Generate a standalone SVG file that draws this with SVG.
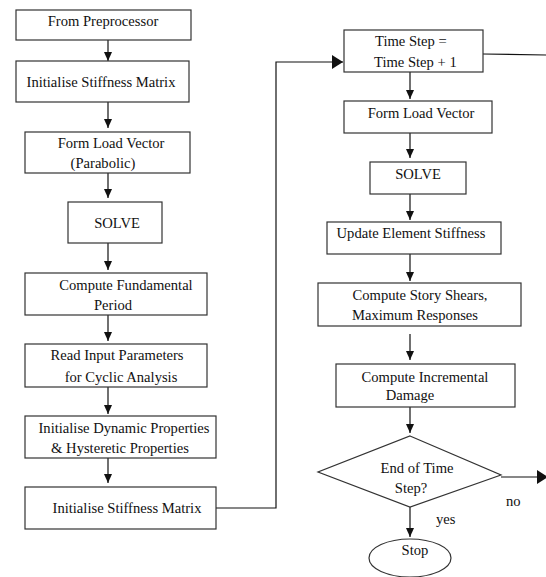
<svg xmlns="http://www.w3.org/2000/svg" width="546" height="577" viewBox="0 0 546 577">
<style>
.box{fill:#fff;stroke:#333;stroke-width:1.2}
.t{font-family:"Liberation Serif","Times New Roman",serif;font-size:14.6px;fill:#111;text-anchor:middle}
.tl{font-family:"Liberation Serif","Times New Roman",serif;font-size:14.6px;fill:#111}
.c{fill:none;stroke:#111;stroke-width:1.2}
</style>
<defs>
<marker id="ah" markerUnits="userSpaceOnUse" markerWidth="10" markerHeight="10" viewBox="0 0 10 10" refX="9" refY="5" orient="auto">
<path d="M0,1 L9,5 L0,9 Z" fill="#111"/>
</marker>
<marker id="ahb" markerUnits="userSpaceOnUse" markerWidth="12" markerHeight="14" viewBox="0 0 12 14" refX="11" refY="7" orient="auto">
<path d="M0,0 L11,7 L0,14 Z" fill="#111"/>
</marker>
</defs>
<g id="connectors">
<line class="c" x1="108" y1="40" x2="108" y2="61" marker-end="url(#ah)"/>
<line class="c" x1="108" y1="102" x2="108" y2="128" marker-end="url(#ah)"/>
<line class="c" x1="108" y1="173" x2="108" y2="198" marker-end="url(#ah)"/>
<line class="c" x1="108" y1="243" x2="108" y2="270" marker-end="url(#ah)"/>
<line class="c" x1="108" y1="315" x2="108" y2="341" marker-end="url(#ah)"/>
<line class="c" x1="108" y1="387" x2="108" y2="414" marker-end="url(#ah)"/>
<line class="c" x1="108" y1="458" x2="108" y2="483" marker-end="url(#ah)"/>
<polyline class="c" points="216,508 276,508 276,62 343,62" marker-end="url(#ahb)"/>
<line class="c" x1="483" y1="54" x2="546" y2="55"/>
<line class="c" x1="410" y1="72" x2="410" y2="99" marker-end="url(#ah)"/>
<line class="c" x1="410" y1="133" x2="410" y2="158" marker-end="url(#ah)"/>
<line class="c" x1="410" y1="194" x2="410" y2="220" marker-end="url(#ah)"/>
<line class="c" x1="410" y1="254" x2="410" y2="281" marker-end="url(#ah)"/>
<line class="c" x1="410" y1="334" x2="410" y2="360" marker-end="url(#ah)"/>
<line class="c" x1="410" y1="407" x2="410" y2="433" marker-end="url(#ah)"/>
<line class="c" x1="501" y1="477" x2="548" y2="477" marker-end="url(#ahb)"/>
<line class="c" x1="410" y1="507" x2="410" y2="537" marker-end="url(#ah)"/>
</g>
<g id="n1"><rect class="box" x="16" y="10" width="175" height="30"/><text class="t" x="103" y="26">From Preprocessor</text></g>
<g id="n2"><rect class="box" x="16" y="61" width="173" height="41"/><text class="t" x="101" y="87">Initialise Stiffness Matrix</text></g>
<g id="n3"><rect class="box" x="25" y="132" width="165" height="41"/><text class="t" x="111" y="148">Form Load Vector</text><text class="t" x="103" y="168">(Parabolic)</text></g>
<g id="n4"><rect class="box" x="68" y="202" width="94" height="41"/><text class="t" x="117" y="228">SOLVE</text></g>
<g id="n5"><rect class="box" x="25" y="273" width="182" height="42"/><text class="t" x="126" y="290">Compute Fundamental</text><text class="t" x="113" y="310">Period</text></g>
<g id="n6"><rect class="box" x="25" y="344" width="182" height="43"/><text class="t" x="117" y="360">Read Input Parameters</text><text class="t" x="121" y="382">for Cyclic Analysis</text></g>
<g id="n7"><rect class="box" x="25" y="416" width="191" height="42"/><text class="t" x="124" y="433">Initialise Dynamic Properties</text><text class="t" x="120" y="453">&amp; Hysteretic Properties</text></g>
<g id="n8"><rect class="box" x="25" y="487" width="191" height="42"/><text class="t" x="127" y="513">Initialise Stiffness Matrix</text></g>
<g id="n9"><rect class="box" x="344" y="30" width="139" height="42"/><text class="tl" x="375" y="46">Time Step =</text><text class="tl" x="374" y="67">Time Step + 1</text></g>
<g id="n10"><rect class="box" x="344" y="101" width="148" height="32"/><text class="t" x="421" y="118">Form Load Vector</text></g>
<g id="n11"><rect class="box" x="370" y="162" width="96" height="32"/><text class="t" x="418" y="179">SOLVE</text></g>
<g id="n12"><rect class="box" x="327" y="222" width="174" height="32"/><text class="t" x="411" y="238">Update Element Stiffness</text></g>
<g id="n13"><rect class="box" x="318" y="283" width="203" height="43"/><text class="t" x="420" y="300">Compute Story Shears,</text><text class="t" x="415" y="320">Maximum Responses</text></g>
<g id="n14"><rect class="box" x="336" y="364" width="179" height="43"/><text class="t" x="425" y="382">Compute Incremental</text><text class="t" x="410" y="400">Damage</text></g>
<g id="n15"><polygon class="box" points="410,436 501,475 410,507 318,472"/><text class="t" x="417" y="473">End of Time</text><text class="t" x="411" y="493">Step?</text></g>
<g id="n16"><ellipse class="box" cx="410" cy="558" rx="41" ry="19"/><text class="t" x="415" y="555">Stop</text></g>
<g id="labels"><text class="tl" x="436" y="524">yes</text><text class="tl" x="506" y="506">no</text></g>
</svg>
